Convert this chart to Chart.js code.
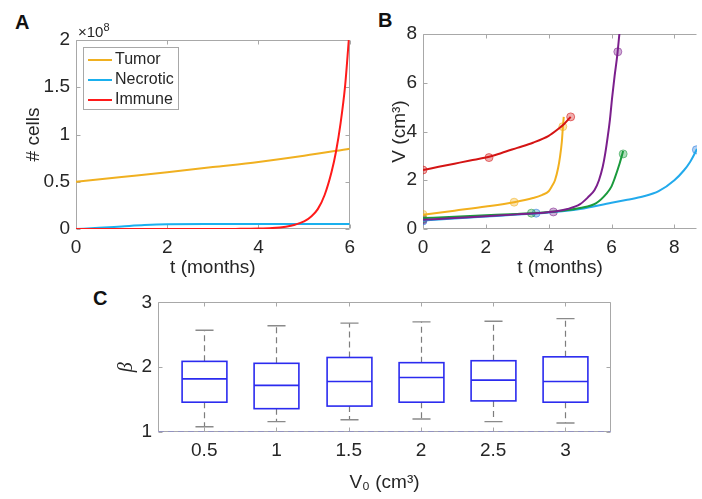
<!DOCTYPE html>
<html>
<head>
<meta charset="utf-8">
<script src="https://cdn.jsdelivr.net/npm/chart.js@4.4.1/dist/chart.umd.min.js"></script>
<style>
  body { margin: 0; background: #fff; width: 702px; height: 499px; overflow: hidden; position: relative;
         font-family: "Liberation Sans", Arial, sans-serif; color: #262626; }
  canvas { position: absolute; }
  .letter { position: absolute; font-weight: bold; font-size: 20px; line-height: 20px; color: #111; }
  #exp { position: absolute; left: 78px; top: 24px; font-size: 15px; line-height: 15px; }
  #exp span { position: relative; top: -6px; font-size: 11px; }
  #legA { position: absolute; left: 83px; top: 47px; width: 94px; height: 61px; border: 1px solid #a8a8a8;
          background: #fff; font-size: 16px; }
  #legA .row { position: absolute; left: 4px; height: 20px; line-height: 20px; white-space: nowrap; }
  #legA .sw { display: inline-block; width: 24px; height: 2px; vertical-align: middle; margin-right: 3px; }
</style>
</head>
<body>
<div class="letter" style="left:15px;top:12px">A</div>
<div class="letter" style="left:378px;top:10px">B</div>
<div class="letter" style="left:93px;top:288px">C</div>

<canvas id="chartA" width="362" height="285" style="left:0;top:0"></canvas>
<canvas id="chartB" width="347" height="285" style="left:355px;top:0"></canvas>
<canvas id="chartC" width="560" height="214" style="left:80px;top:285px"></canvas>
<div id="exp">&times;10<span>8</span></div>
<div id="legA"></div>

<script>
const FONT = '"Liberation Sans", Arial, sans-serif';
const INK = '#262626';

// ---- A: cell counts (units of 1e8)
const tumorT   = [0, 1, 2, 3, 4, 5, 6];
const tumorN   = [0.50, 0.55, 0.60, 0.655, 0.71, 0.775, 0.85];
const necroT   = [0, 0.5, 1, 1.5, 2, 3, 4, 5, 6];
const necroN   = [0, 0.012, 0.027, 0.042, 0.05, 0.052, 0.052, 0.052, 0.052];
const immuneT  = [0, 1, 2, 3, 3.5, 4, 4.3, 4.6, 4.8, 5.0, 5.15, 5.3, 5.45, 5.6, 5.7, 5.8, 5.9, 5.98];
const immuneN  = [0, 0, 0, 0, 0.001, 0.004, 0.01, 0.025, 0.045, 0.08, 0.13, 0.21, 0.36, 0.6, 0.82, 1.12, 1.52, 2.0];
const legendA  = ['Tumor', 'Necrotic', 'Immune'];
const colorsA  = ['#f0b020', '#1ab0ee', '#ff1a1a'];

// ---- B: tumour volume per patient (fitted curves + measurements)
const redT    = [0, 0.5, 1, 1.5, 2, 2.5, 3, 3.5, 4, 4.3, 4.5, 4.7];
const redV    = [2.42, 2.55, 2.68, 2.81, 2.93, 3.12, 3.33, 3.54, 3.82, 4.1, 4.32, 4.6];
const yellowT = [0, 1, 2, 2.9, 3.5, 3.8, 4.0, 4.1, 4.2, 4.3, 4.36, 4.42, 4.45, 4.48];
const yellowV = [0.58, 0.75, 0.92, 1.1, 1.27, 1.4, 1.55, 1.75, 2.0, 2.5, 2.96, 3.6, 4.15, 4.6];
const greenT  = [0, 1, 2, 3, 3.45, 4, 4.5, 5, 5.5, 5.84, 6, 6.1, 6.26, 6.37];
const greenV  = [0.45, 0.5, 0.56, 0.62, 0.65, 0.7, 0.76, 0.86, 1.05, 1.45, 1.75, 2.08, 2.7, 3.2];
const blueT   = [0, 1, 2, 3, 3.6, 4, 5, 6, 6.5, 7, 7.5, 8, 8.3, 8.5, 8.72];
const blueV   = [0.35, 0.43, 0.51, 0.59, 0.64, 0.68, 0.82, 1.08, 1.2, 1.33, 1.55, 2.0, 2.4, 2.75, 3.28];
const purpleT = [0, 1, 2, 3, 4.2, 4.6, 5.0, 5.25, 5.46, 5.6, 5.72, 5.8, 5.88, 5.95, 6.02, 6.1, 6.18, 6.25];
const purpleV = [0.38, 0.45, 0.52, 0.6, 0.72, 0.82, 1.02, 1.3, 1.6, 2.0, 2.55, 3.1, 3.8, 4.5, 5.4, 6.3, 7.1, 8.0];

const redObsT    = [0, 2.1, 4.7],   redObsV    = [2.42, 2.93, 4.6];
const yellowObsT = [0, 2.9, 4.45],  yellowObsV = [0.6, 1.1, 4.2];
const greenObsT  = [0, 3.45, 6.37], greenObsV  = [0.42, 0.65, 3.08];
const blueObsT   = [0, 3.6, 8.7],   blueObsV   = [0.33, 0.65, 3.25];
const purpleObsT = [0, 4.15, 6.2],  purpleObsV = [0.38, 0.7, 7.27];

// ---- C: beta distribution per initial volume
const v0Labels = ['0.5', '1', '1.5', '2', '2.5', '3'];
const boxPos   = [1, 2, 3, 4, 5, 6];
const whiskLo  = [1.08, 1.16, 1.19, 1.20, 1.16, 1.14];
const q1       = [1.46, 1.36, 1.40, 1.46, 1.48, 1.46];
const median   = [1.82, 1.72, 1.78, 1.84, 1.80, 1.78];
const q3       = [2.09, 2.06, 2.15, 2.07, 2.10, 2.16];
const whiskHi  = [2.57, 2.64, 2.68, 2.70, 2.71, 2.75];
const betaFloor = [1, 1];

const pts = (t, v) => t.map((x, i) => ({ x, y: v[i] }));
const tickFont = { family: FONT, size: 19 };

function line(t, v, color) {
  return { type: 'line', data: pts(t, v), borderColor: color, borderWidth: 2, pointRadius: 0,
           cubicInterpolationMode: 'monotone', fill: false };
}
function marks(t, v, rgb) {
  return { type: 'scatter', data: pts(t, v), pointRadius: 4, borderWidth: 1,
           backgroundColor: `rgba(${rgb},0.35)`, borderColor: `rgba(${rgb},0.55)` };
}
function xAxis(min, max, step, title, height, titlePad) {
  return {
    type: 'linear', min, max,
    grid: { display: false, drawTicks: false }, border: { display: false },
    ticks: { stepSize: step, includeBounds: false, autoSkip: false, maxRotation: 0,
             font: tickFont, color: INK, padding: 7, callback: v => String(v) },
    title: { display: true, text: title, font: { family: FONT, size: 19 }, color: INK,
             padding: { top: 0, bottom: titlePad } },
    afterFit: s => { s.height = height; }
  };
}
function yAxis(min, max, step, title, width, titlePad, titleFont) {
  return {
    min, max,
    grid: { display: false, drawTicks: false }, border: { display: false },
    ticks: { stepSize: step, autoSkip: false, font: tickFont, color: INK, padding: 6,
             callback: v => String(v) },
    title: { display: true, text: title, font: titleFont || { family: FONT, size: 19 }, color: INK,
             padding: { top: titlePad, bottom: 0 } },
    afterFit: s => { s.width = width; }
  };
}

// frame round the plot area with short inward ticks, MATLAB style
function frame(drawRight) {
  return {
    id: 'frame',
    beforeDatasetsDraw(chart) {
      const { ctx, chartArea: a, scales: { x, y } } = chart;
      const L = Math.round(a.left) + 0.5, R = Math.round(a.right) - 0.5;
      const T = Math.round(a.top) + 0.5, B = Math.round(a.bottom) - 0.5;
      ctx.save();
      ctx.strokeStyle = '#a8a8a8';
      ctx.lineWidth = 1;
      ctx.beginPath();
      ctx.moveTo(R, T); ctx.lineTo(L, T); ctx.lineTo(L, B); ctx.lineTo(R, B);
      if (drawRight) ctx.lineTo(R, T);
      x.ticks.forEach(t => {
        const px = Math.round(x.getPixelForValue(t.value)) + 0.5;
        ctx.moveTo(px, B); ctx.lineTo(px, B - 4);
        ctx.moveTo(px, T); ctx.lineTo(px, T + 4);
      });
      y.ticks.forEach(t => {
        const py = Math.round(y.getPixelForValue(t.value)) + 0.5;
        ctx.moveTo(L, py); ctx.lineTo(L + 4, py);
        if (drawRight) { ctx.moveTo(R, py); ctx.lineTo(R - 4, py); }
      });
      ctx.stroke();
      ctx.restore();
    }
  };
}

const common = {
  responsive: false, animation: false,
  plugins: { legend: { display: false }, tooltip: { enabled: false } }
};

// ---- A
new Chart(document.getElementById('chartA'), {
  type: 'line',
  data: { datasets: [
    line(immuneT, immuneN, colorsA[2]),
    line(necroT, necroN, colorsA[1]),
    line(tumorT, tumorN, colorsA[0])
  ] },
  options: { ...common,
    layout: { padding: { top: 40, right: 11, left: 0, bottom: 0 } },
    scales: {
      x: xAxis(0, 6, 2, 't (months)', 56, 6),
      y: yAxis(0, 2, 0.5, '# cells', 76, 22)
    }
  },
  plugins: [frame(true)]
});

const leg = document.getElementById('legA');
legendA.forEach((name, i) => {
  const row = document.createElement('div');
  row.className = 'row';
  row.style.top = (1 + i * 20) + 'px';
  row.innerHTML = `<span class="sw" style="background:${colorsA[i]}"></span>${name}`;
  leg.appendChild(row);
});

// ---- B
new Chart(document.getElementById('chartB'), {
  type: 'line',
  data: { datasets: [
    line(redT, redV, '#d41414'),
    line(yellowT, yellowV, '#f2b01e'),
    line(purpleT, purpleV, '#7b1f8c'),
    line(greenT, greenV, '#1a9a3c'),
    line(blueT, blueV, '#22aaec'),
    marks(redObsT, redObsV, '212,20,20'),
    marks(yellowObsT, yellowObsV, '242,176,30'),
    marks(purpleObsT, purpleObsV, '123,31,140'),
    marks(greenObsT, greenObsV, '26,154,60'),
    marks(blueObsT, blueObsV, '34,120,220')
  ] },
  options: { ...common,
    layout: { padding: { top: 34, right: 0, left: 0, bottom: 0 } },
    scales: {
      x: xAxis(0, 8.72, 2, 't (months)', 56, 6),
      y: yAxis(0, 8, 2, 'V (cm\u00b3)', 68, 33)
    }
  },
  plugins: [frame(false)]
});

// ---- C
const boxWidth = 0.62, capWidth = 0.25;
const boxPlugin = {
  id: 'boxes',
  afterDatasetsDraw(chart) {
    const { ctx, scales: { x, y } } = chart;
    const half = (x.getPixelForValue(boxWidth) - x.getPixelForValue(0)) / 2;
    const capHalf = (x.getPixelForValue(capWidth) - x.getPixelForValue(0)) / 2;
    ctx.save();
    boxPos.forEach((p, i) => {
      const cx = Math.round(x.getPixelForValue(p)) + 0.5;
      const yLo = y.getPixelForValue(whiskLo[i]), yQ1 = y.getPixelForValue(q1[i]);
      const yMed = y.getPixelForValue(median[i]), yQ3 = y.getPixelForValue(q3[i]);
      const yHi = y.getPixelForValue(whiskHi[i]);
      // whiskers
      ctx.strokeStyle = '#7d7d7d';
      ctx.lineWidth = 1.2;
      ctx.setLineDash([6, 4]);
      ctx.beginPath();
      ctx.moveTo(cx, yQ3); ctx.lineTo(cx, yHi);
      ctx.moveTo(cx, yQ1); ctx.lineTo(cx, yLo);
      ctx.stroke();
      ctx.setLineDash([]);
      ctx.strokeStyle = '#8a8a8a';
      ctx.lineWidth = 1.4;
      ctx.beginPath();
      ctx.moveTo(cx - capHalf, yHi); ctx.lineTo(cx + capHalf, yHi);
      ctx.moveTo(cx - capHalf, yLo); ctx.lineTo(cx + capHalf, yLo);
      ctx.stroke();
      // box + median
      ctx.strokeStyle = '#2b2bef';
      ctx.lineWidth = 1.6;
      ctx.strokeRect(cx - half, yQ3, 2 * half, yQ1 - yQ3);
      ctx.beginPath();
      ctx.moveTo(cx - half, yMed); ctx.lineTo(cx + half, yMed);
      ctx.stroke();
    });
    ctx.restore();
  }
};

const cX = xAxis(0.36, 6.63, 1, 'V\u2080 (cm\u00b3)', 67, 5);
cX.afterBuildTicks = s => { s.ticks = boxPos.map(v => ({ value: v })); };
cX.ticks.callback = (v, i) => v0Labels[i];

new Chart(document.getElementById('chartC'), {
  type: 'line',
  data: { datasets: [{
    data: [{ x: 0.36, y: betaFloor[0] }, { x: 6.63, y: betaFloor[1] }],
    borderColor: 'rgba(110,110,240,0.7)', borderWidth: 1.2, borderDash: [6, 4], pointRadius: 0
  }] },
  options: { ...common,
    layout: { padding: { top: 17, right: 29, left: 0, bottom: 0 } },
    scales: {
      x: cX,
      y: yAxis(1, 3, 1, '\u03b2', 78, 35, { family: '"Liberation Serif", serif', size: 20, style: 'italic' })
    }
  },
  plugins: [frame(true), boxPlugin]
});
</script>
</body>
</html>
